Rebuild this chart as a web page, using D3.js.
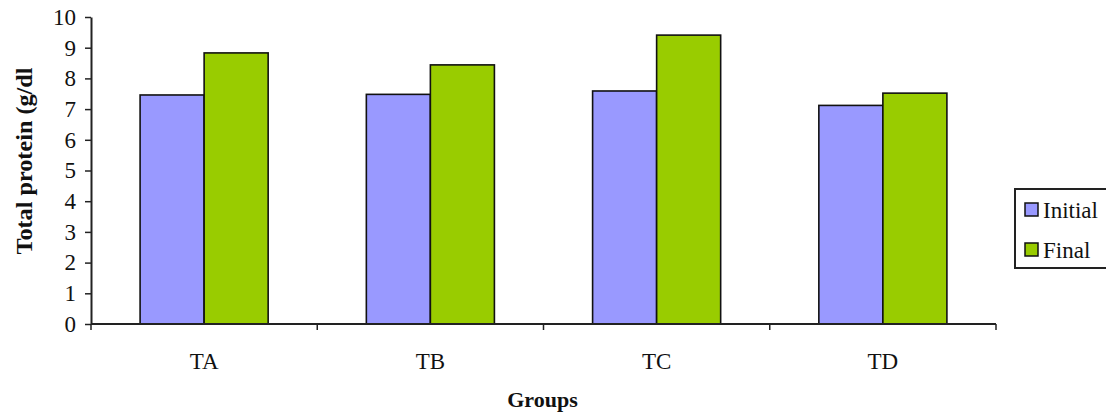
<!DOCTYPE html>
<html>
<head>
<meta charset="utf-8">
<script src="https://cdn.jsdelivr.net/npm/d3@7"></script>
<style>
  body { margin: 0; background: #fff; }
</style>
</head>
<body>
<svg id="chart" width="1106" height="419"></svg>
<script>
const groups = ["TA", "TB", "TC", "TD"];
const seriesNames = ["Initial", "Final"];
const initialValues = [7.46, 7.48, 7.59, 7.12];
const finalValues = [8.83, 8.44, 9.41, 7.52];
const yTicks = [0, 1, 2, 3, 4, 5, 6, 7, 8, 9, 10];

const colors = { "Initial": "#9999ff", "Final": "#99cc00" };
const serif = '"Liberation Serif", "Times New Roman", serif';

const rows = groups.map((g, i) => ({ group: g, Initial: initialValues[i], Final: finalValues[i] }));

const svg = d3.select("#chart");
const plotLeft = 91, plotRight = 996, plotTop = 17, plotBottom = 324;

const x0 = d3.scaleBand()
    .domain(groups)
    .range([plotLeft, plotRight])
    .paddingInner(0.434)
    .paddingOuter(0.217);

const x1 = d3.scaleBand()
    .domain(seriesNames)
    .range([0, x0.bandwidth()]);

const y = d3.scaleLinear()
    .domain([0, 10])
    .range([plotBottom, plotTop]);

// bars
const barLayer = svg.append("g");
barLayer.selectAll("g.grp")
    .data(rows)
    .join("g")
        .attr("class", "grp")
        .attr("transform", d => `translate(${x0(d.group)},0)`)
    .selectAll("rect")
    .data(d => seriesNames.map(s => ({ s, v: d[s] })))
    .join("rect")
        .attr("x", d => x1(d.s))
        .attr("y", d => y(d.v))
        .attr("width", x1.bandwidth())
        .attr("height", d => y(0) - y(d.v))
        .attr("fill", d => colors[d.s])
        .attr("stroke", "#111")
        .attr("stroke-width", 1.6);

// y axis
const yAxis = svg.append("g")
    .attr("transform", `translate(${plotLeft},0)`)
    .call(d3.axisLeft(y).tickValues(yTicks).tickSize(6).tickPadding(9).tickSizeOuter(0));
yAxis.select(".domain").attr("stroke", "#222").attr("stroke-width", 2);
yAxis.selectAll(".tick line").attr("stroke", "#222").attr("stroke-width", 1.5);
yAxis.selectAll(".tick text")
    .style("font-family", serif).style("font-size", "23px").attr("fill", "#111");

// x axis with tick marks at category boundaries
const xAxis = svg.append("g")
    .attr("transform", `translate(0,${plotBottom})`);
xAxis.append("line")
    .attr("x1", plotLeft).attr("x2", plotRight)
    .attr("stroke", "#222").attr("stroke-width", 2);
const bounds = groups.map(d => x0(d) - x0.step() * x0.paddingInner() / 2).concat([plotRight]);
xAxis.selectAll("line.bt")
    .data(bounds)
    .join("line")
        .attr("class", "bt")
        .attr("x1", d => d).attr("x2", d => d)
        .attr("y1", 0).attr("y2", 6)
        .attr("stroke", "#222").attr("stroke-width", 1.5);
xAxis.selectAll("text")
    .data(groups)
    .join("text")
        .attr("x", d => x0(d) + x0.bandwidth() / 2)
        .attr("y", 45)
        .attr("text-anchor", "middle")
        .attr("fill", "#111")
        .style("font-family", serif).style("font-size", "23px")
        .text(d => d);

// axis titles
svg.append("text")
    .attr("transform", "translate(32,161) rotate(-90)")
    .attr("text-anchor", "middle")
    .attr("fill", "#111")
    .attr("textLength", 187)
    .attr("lengthAdjust", "spacingAndGlyphs")
    .style("font-family", serif).style("font-size", "23px").style("font-weight", "bold")
    .text("Total protein (g/dl");

svg.append("text")
    .attr("x", (plotLeft + plotRight) / 2 - 1)
    .attr("y", 407)
    .attr("text-anchor", "middle")
    .attr("fill", "#111")
    .style("font-family", serif).style("font-size", "22px").style("font-weight", "bold")
    .text("Groups");

// legend
const legend = svg.append("g").attr("transform", "translate(1015,189)");
legend.append("rect")
    .attr("width", 110).attr("height", 79)
    .attr("fill", "#fff").attr("stroke", "#222").attr("stroke-width", 2);
const li = legend.selectAll("g.item")
    .data(seriesNames)
    .join("g")
        .attr("class", "item")
        .attr("transform", (d, i) => `translate(10,${21 + i * 40})`);
li.append("rect")
    .attr("y", -7).attr("width", 13).attr("height", 13)
    .attr("fill", d => colors[d]).attr("stroke", "#111").attr("stroke-width", 1.5);
li.append("text")
    .attr("x", 18).attr("y", 8)
    .attr("fill", "#111")
    .style("font-family", serif).style("font-size", "23px")
    .text(d => d);
</script>
</body>
</html>
